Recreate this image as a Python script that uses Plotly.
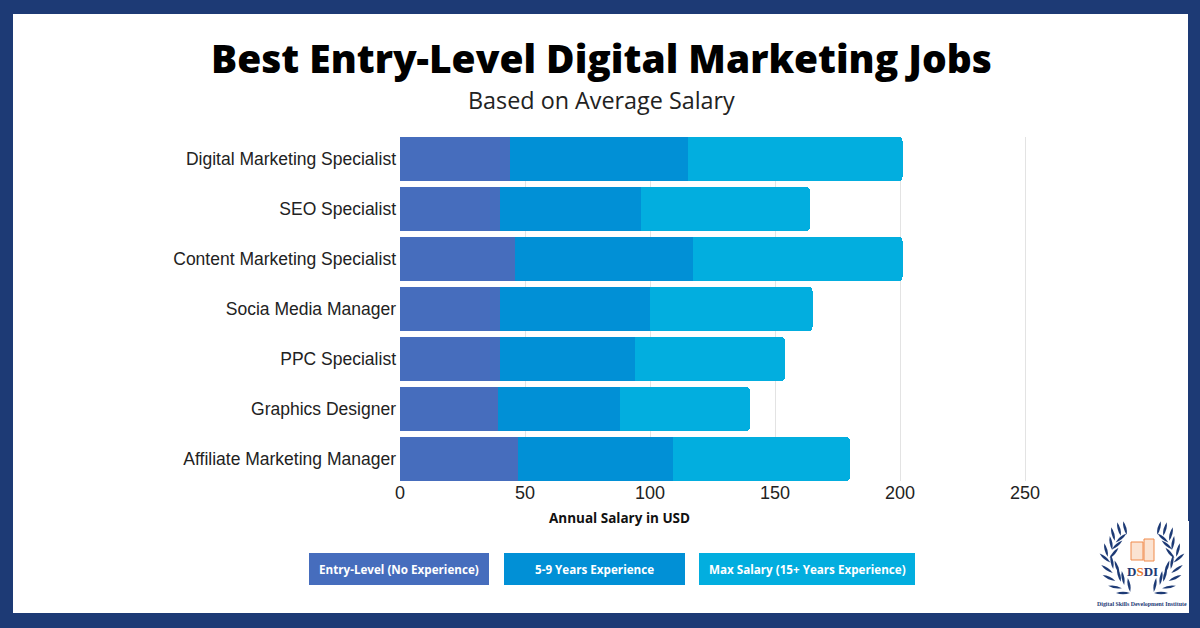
import math
import plotly.graph_objects as go

categories = ["Digital Marketing Specialist", "SEO Specialist", "Content Marketing Specialist",
              "Socia Media Manager", "PPC Specialist", "Graphics Designer", "Affiliate Marketing Manager"]
entry_level = [44, 40, 46, 40, 40, 39, 47]
mid_level = [71, 56.5, 71, 60, 54, 49, 62]
max_salary = [86, 67.5, 84, 65, 60, 52, 71]
series_names = ["Entry-Level (No Experience)", "5-9 Years Experience", "Max Salary (15+ Years Experience)"]
colors = ["#466dbd", "#0190d6", "#02aedf"]
tick_values = [0, 50, 100, 150, 200, 250]
NAVY = "#1d3a75"
W, H = 1200, 628

def px(x): return x / W
def py(y): return 1 - y / H

fig = go.Figure()
for name, vals, col in zip(series_names, [entry_level, mid_level, max_salary], colors):
    fig.add_trace(go.Bar(y=categories, x=vals, name=name, orientation="h",
                         marker=dict(color=col, line=dict(width=0)), showlegend=False))

shapes = [
    dict(type="rect", xref="paper", yref="paper", x0=0, x1=1, y0=0, y1=1, layer="below",
         fillcolor=NAVY, line=dict(width=0)),
    dict(type="rect", xref="paper", yref="paper", x0=px(13), x1=px(1188), y0=py(613), y1=py(14), layer="below",
         fillcolor="white", line=dict(width=0)),
    dict(type="rect", xref="paper", yref="paper", x0=px(1090), x1=px(1189), y0=py(613), y1=py(521), layer="below",
         fillcolor="white", line=dict(width=0)),
]
annotations = []
def text(x, y, t, size, color="#000000", family="Open Sans", bold=False, weight=None):
    font = dict(size=size, color=color, family=family)
    if weight:
        font["weight"] = weight
    annotations.append(dict(xref="paper", yref="paper", x=px(x), y=py(y), text=f"<b>{t}</b>" if bold else t,
                            showarrow=False, xanchor="center", yanchor="middle", font=font))

text(601, 57, "Best Entry-Level Digital Marketing Jobs", 38.9, weight=800)
text(601, 100, "Based on Average Salary", 23.35, color="#222222")
text(619.5, 517.5, "Annual Salary in USD", 13.5, bold=True, color="#111111")

for (x0, x1), name, col in zip([(309, 489), (504, 685), (699, 915)], series_names, colors):
    shapes.append(dict(type="rect", xref="paper", yref="paper", x0=px(x0), x1=px(x1), y0=py(585), y1=py(553),
                       fillcolor=col, line=dict(width=0)))
    text((x0 + x1) / 2, 569, name, 11.65, color="white", bold=True)

# Logo: laurel leaves
def leaf(cx, cy, angle, l=7.0, w=1.7):
    a = math.radians(angle)
    dx, dy = math.cos(a) * l, math.sin(a) * l
    nx, ny = -math.sin(a) * w, math.cos(a) * w
    p = lambda x, y: f"{px(x):.5f},{py(y):.5f}"
    return dict(type="path", xref="paper", yref="paper", fillcolor=NAVY, line=dict(width=0),
                path=f"M{p(cx-dx, cy-dy)} Q{p(cx+nx*1.6, cy+ny*1.6)} {p(cx+dx, cy+dy)} "
                     f"Q{p(cx-nx*1.6, cy-ny*1.6)} {p(cx-dx, cy-dy)} Z")

left_leaves = [(1119, 529, 75), (1125, 528, 75), (1113, 534, 75), (1121, 538, 140), (1111, 543, 80),
               (1117, 545, 140), (1106, 550, 75), (1114, 553, 130), (1105, 558, 40), (1112, 562, 80),
               (1107, 569, 35), (1117, 567, 70), (1109, 578, 25), (1119, 575, 75), (1123, 578, 80),
               (1115, 587, 10), (1129, 585, 80), (1123, 593, 0)]
for cx, cy, ang in left_leaves:
    shapes.append(leaf(cx, cy, ang))
    shapes.append(leaf(2 * 1142 - cx, cy, 180 - ang))

# Logo: document icon
shapes.append(dict(type="rect", xref="paper", yref="paper", x0=px(1131), x1=px(1143), y0=py(560), y1=py(542),
                   fillcolor="#fbe3d2", line=dict(color="#f08a4b", width=1)))
shapes.append(dict(type="rect", xref="paper", yref="paper", x0=px(1144), x1=px(1154), y0=py(561), y1=py(539),
                   fillcolor="#fbe3d2", line=dict(color="#f08a4b", width=1)))
annotations.append(dict(xref="paper", yref="paper", x=px(1142), y=py(571.5), showarrow=False,
                        text="<b>D<span style='color:#e8772e'>S</span>DI</b>",
                        font=dict(size=13, color=NAVY, family="Liberation Serif"),
                        xanchor="center", yanchor="middle"))
text(1141.5, 603.5, "Digital Skills Development Institute", 5.9, color=NAVY, family="Liberation Serif", bold=True)

fig.update_layout(
    width=W, height=H, autosize=False,
    margin=dict(l=0, r=0, t=0, b=0, pad=0, autoexpand=False),
    paper_bgcolor=NAVY, plot_bgcolor="rgba(0,0,0,0)",
    barmode="stack", bargap=0.12, barcornerradius=4,
    shapes=shapes, annotations=annotations,
    xaxis=dict(domain=[px(400), px(1030)], range=[0, 252], tickvals=tick_values, ticks="",
               showgrid=True, gridcolor="#e3e3e3", gridwidth=1, zeroline=False, showline=False,
               ticklabelstandoff=-1,
               tickfont=dict(family="Liberation Sans", size=18, color="#222222")),
    yaxis=dict(domain=[py(481), py(137)], range=[6.44, -0.44], categoryorder="array", categoryarray=categories,
               ticks="", showgrid=False, showline=False, zeroline=False, ticklabelstandoff=3,
               tickfont=dict(family="Liberation Sans", size=17.5, color="#222222")),
)
fig.write_html("out.html", config={"displayModeBar": False},
               post_script="document.documentElement.style.overflow='hidden';document.body.style.margin='0';")
